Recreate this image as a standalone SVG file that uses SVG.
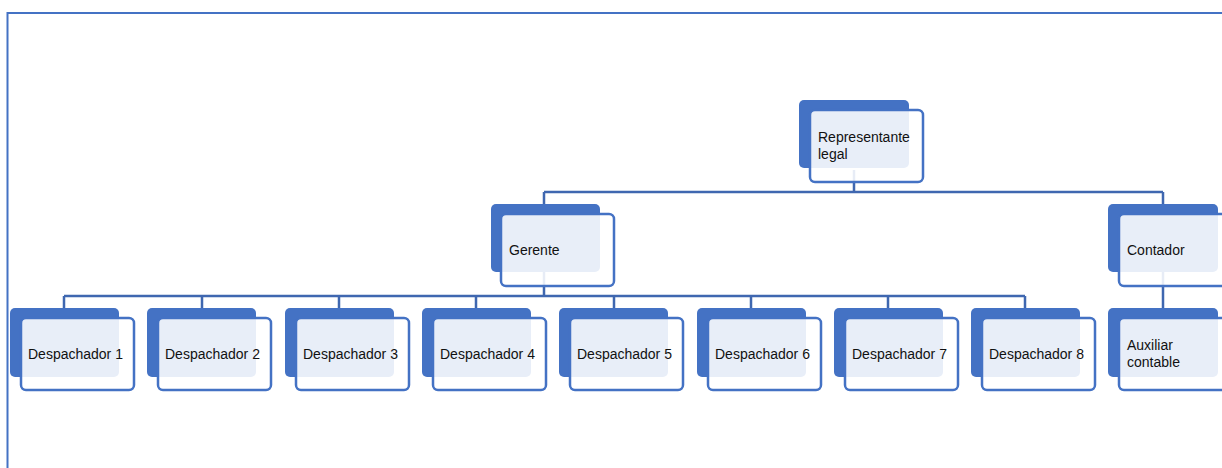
<svg xmlns="http://www.w3.org/2000/svg" width="1222" height="468" viewBox="0 0 1222 468">
<style>
.bk{fill:#4472C4;}
.fr{fill:#ffffff;fill-opacity:0.88;stroke:#4472C4;stroke-width:2.5;}
.ln{fill:none;stroke:#3F67B0;stroke-width:2.5;}
.t{font-family:"Liberation Sans",Arial,sans-serif;font-size:14px;fill:#111111;}
</style>
<rect width="1222" height="468" fill="#ffffff"/>
<rect x="7.5" y="13" width="1230" height="470" fill="none" stroke="#4472C4" stroke-width="2"/>
<g id="connectors">
<path class="ln" d="M854 170 V192 M544 192 H1163 M544 192 V206 M1163 192 V206"/>
<path class="ln" d="M544 272 V296 M64 296 H1025 M64 296 V310 M202 296 V310 M339 296 V310 M476 296 V310 M614 296 V310 M751 296 V310 M888 296 V310 M1025 296 V310"/>
<path class="ln" d="M1163 272 V310"/>
</g>
<g id="representante">
<rect class="bk" x="799" y="100" width="110" height="68" rx="5"/>
<rect class="fr" x="810" y="110" width="113" height="72" rx="5"/>
<text class="t" x="818" y="142">Representante</text>
<text class="t" x="818" y="159">legal</text>
</g>
<g id="gerente">
<rect class="bk" x="491" y="204" width="109" height="68" rx="5"/>
<rect class="fr" x="501" y="214" width="113" height="72" rx="5"/>
<text class="t" x="509" y="255">Gerente</text>
</g>
<g id="contador">
<rect class="bk" x="1108" y="204" width="110" height="68" rx="5"/>
<rect class="fr" x="1119" y="214" width="113" height="72" rx="5"/>
<text class="t" x="1127" y="255">Contador</text>
</g>
<g id="auxiliar">
<rect class="bk" x="1108" y="308" width="110" height="69" rx="5"/>
<rect class="fr" x="1119" y="318" width="113" height="72" rx="5"/>
<text class="t" x="1127" y="350">Auxiliar</text>
<text class="t" x="1127" y="367">contable</text>
</g>
<g id="despachador1">
<rect class="bk" x="10" y="308" width="109" height="69" rx="5"/>
<rect class="fr" x="21" y="318" width="113" height="72" rx="5"/>
<text class="t" x="28" y="359">Despachador 1</text>
</g>
<g id="despachador2">
<rect class="bk" x="147" y="308" width="109" height="69" rx="5"/>
<rect class="fr" x="158" y="318" width="113" height="72" rx="5"/>
<text class="t" x="165" y="359">Despachador 2</text>
</g>
<g id="despachador3">
<rect class="bk" x="285" y="308" width="109" height="69" rx="5"/>
<rect class="fr" x="296" y="318" width="113" height="72" rx="5"/>
<text class="t" x="303" y="359">Despachador 3</text>
</g>
<g id="despachador4">
<rect class="bk" x="422" y="308" width="109" height="69" rx="5"/>
<rect class="fr" x="433" y="318" width="113" height="72" rx="5"/>
<text class="t" x="440" y="359">Despachador 4</text>
</g>
<g id="despachador5">
<rect class="bk" x="559" y="308" width="109" height="69" rx="5"/>
<rect class="fr" x="570" y="318" width="113" height="72" rx="5"/>
<text class="t" x="577" y="359">Despachador 5</text>
</g>
<g id="despachador6">
<rect class="bk" x="697" y="308" width="109" height="69" rx="5"/>
<rect class="fr" x="708" y="318" width="113" height="72" rx="5"/>
<text class="t" x="715" y="359">Despachador 6</text>
</g>
<g id="despachador7">
<rect class="bk" x="834" y="308" width="109" height="69" rx="5"/>
<rect class="fr" x="845" y="318" width="113" height="72" rx="5"/>
<text class="t" x="852" y="359">Despachador 7</text>
</g>
<g id="despachador8">
<rect class="bk" x="971" y="308" width="109" height="69" rx="5"/>
<rect class="fr" x="982" y="318" width="113" height="72" rx="5"/>
<text class="t" x="989" y="359">Despachador 8</text>
</g>
</svg>
